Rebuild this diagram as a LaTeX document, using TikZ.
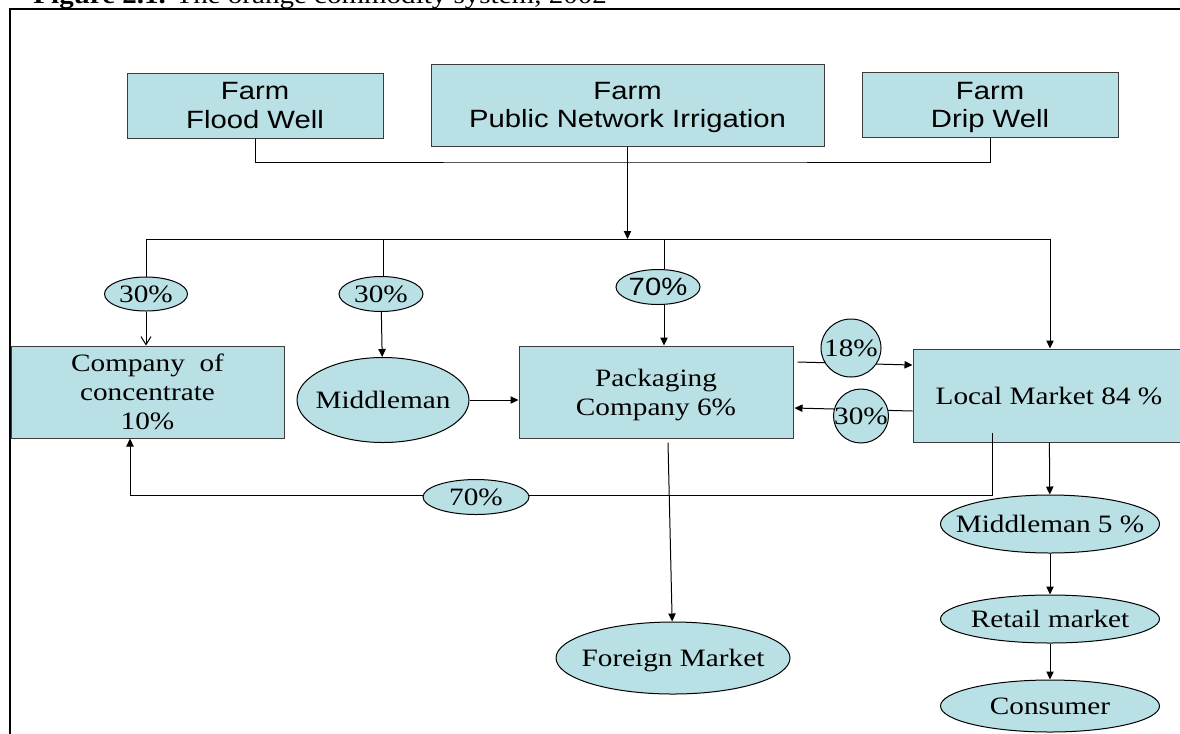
\documentclass[tikz,border=0pt]{standalone}
\usepackage{fontspec}
\setmainfont{Liberation Serif}[FakeStretch=1.17]
\newfontfamily\farmfont{Liberation Sans}[FakeStretch=1.17]
\usetikzlibrary{arrows.meta,shapes.geometric,calc}

\definecolor{cellfill}{RGB}{185,224,228}
\definecolor{cellline}{RGB}{60,60,60}
% text that does not widen its ellipse
\newcommand{\slimtext}[1]{\makebox[0pt]{#1}}

\tikzset{every picture/.style={line width=0.75pt}}
\tikzset{
  farmbox/.style={draw=cellline,fill=cellfill,inner sep=0pt,align=center,text depth=0pt,font=\farmfont\fontsize{18.75}{21.2}\selectfont},
  firmbox/.style={draw=cellline,fill=cellfill,inner sep=0pt,align=center,text depth=0pt,font=\fontsize{18.75}{21.75}\selectfont},
  marketnode/.style={ellipse,draw=black,fill=cellfill,inner sep=0pt,text depth=0pt,font=\fontsize{18.75}{21.75}\selectfont},
  arr/.style={-{Triangle[length=6pt,width=5.5pt]}},
  openarr/.style={-{Straight Barb[length=6pt,width=7.5pt]}},
}

\begin{document}
\begin{tikzpicture}[x=0.75pt,y=0.75pt,yscale=-1,xscale=1]
	\useasboundingbox (0,0) rectangle (1180,733);

	% Text Node (caption, cut by the top edge)
	\node[anchor=base west,inner sep=0pt,font=\fontsize{18.6}{20}\selectfont] (caption) at (33,3.5) {\textbf{Figure 2.1.} The orange commodity system, 2002};
	%Straight Lines (frame)
	\draw[line width=1.5pt] (1200,9) -| (10,760);

	%Shape: Rectangle (farms)
	\node[farmbox,minimum width=192pt,minimum height=48.75pt] (flood) at (255,105.5) {Farm\\Flood Well};
	\node[farmbox,minimum width=294.75pt,minimum height=61.5pt] (public) at (627.5,105) {Farm\\Public Network Irrigation};
	\node[farmbox,minimum width=192pt,minimum height=48.75pt] (drip) at (990,105.2) {Farm\\Drip Well};

	%Shape: Rectangle (firms)
	\node[firmbox,minimum width=204.75pt,minimum height=69pt] (conc) at (147.5,392) {Company\ \ of\\concentrate\\10\%};
	\node[firmbox,minimum width=205.5pt,minimum height=69pt] (pack) at (656,392) {Packaging\\Company 6\%};
	\node[firmbox,minimum width=204pt,minimum height=69.75pt] (local) at (1049,395.5) {Local Market 84 \%};

	%Shape: Ellipse (markets)
	\node[marketnode,minimum width=129pt,minimum height=63.75pt] (midman) at (383,400) {\slimtext{Middleman}};
	\node[marketnode,minimum width=175.5pt,minimum height=54pt] (foreign) at (673,658) {\slimtext{Foreign Market}};
	\node[marketnode,minimum width=164.25pt,minimum height=43.5pt] (midfive) at (1050,524) {\slimtext{Middleman 5 \%}};
	\node[marketnode,minimum width=164.25pt,minimum height=36pt] (retail) at (1050,619) {\slimtext{Retail market}};
	\node[marketnode,minimum width=164.25pt,minimum height=39pt] (consumer) at (1050,706) {\slimtext{Consumer}};

	%Shape: Ellipse (shares on the branches)
	\node[marketnode,minimum width=62.25pt,minimum height=25.5pt] (shareA) at (146,294) {\slimtext{30\%}};
	\node[marketnode,minimum width=63pt,minimum height=26.25pt] (shareB) at (381,294) {\slimtext{30\%}};
	\node[marketnode,font=\farmfont\fontsize{18.75}{21.2}\selectfont,minimum width=63pt,minimum height=26.25pt] (shareC) at (658,287) {\slimtext{70\%}};

	%Straight Lines (farms to distribution)
	\coordinate (farmjoin) at (627.5,162);
	\coordinate (distrib) at (627.5,239);
	\draw (flood) |- (farmjoin) -| (drip);
	\draw[arr] (public) -- (distrib);

	%Straight Lines (distribution branches)
	\coordinate (brA) at (146,239);
	\coordinate (brB) at (383,239);
	\coordinate (brC) at (664,239);
	\coordinate (brD) at (1050,239);
	\draw (brA) -- (brD);
	\draw (brA) -- (shareA);
	\draw[openarr] (shareA) -- (shareA |- conc.north);
	\draw (brB) -- (brB |- shareB.north);
	\draw[arr] (shareB) -- (midman);
	\draw (brC) -- (brC |- shareC.north);
	\draw[arr] (shareC.south -| brC) -- (brC |- pack.north);
	\draw[arr] (brD) -- (brD |- local.north);
	\draw[arr] (midman) -- (midman -| pack.west);

	%Straight Lines (packaging and local market)
	\draw[arr] ($(pack.east)+(4,-30)$) -- ($(local.west)+(0,-30.5)$);
	\draw[arr] ($(local.west)+(0,15.5)$) -- ($(pack.east)+(1,16)$);
	\node[marketnode,minimum width=45pt,minimum height=43.5pt] (shareD) at (851,348) {\slimtext{18\%}};
	\node[marketnode,minimum width=41.25pt,minimum height=40.5pt] (shareE) at (861,416) {\slimtext{30\%}};

	%Straight Lines (back to the concentrate company)
	\coordinate (lmfoot) at (992,433);
	\coordinate (cofoot) at (130,495);
	\draw[arr] (lmfoot) |- (cofoot) -- (cofoot |- conc.south);
	\node[marketnode,minimum width=79.5pt,minimum height=26.25pt] (shareF) at (476,497) {\slimtext{70\%}};

	%Straight Lines (to the markets)
	\draw[arr] ($(pack.south)+(12,4)$) -- (foreign);
	\draw[arr] (local) -- (midfive);
	\draw[arr] (midfive) -- (retail);
	\draw[arr] (retail) -- (consumer);

\end{tikzpicture}
\end{document}
